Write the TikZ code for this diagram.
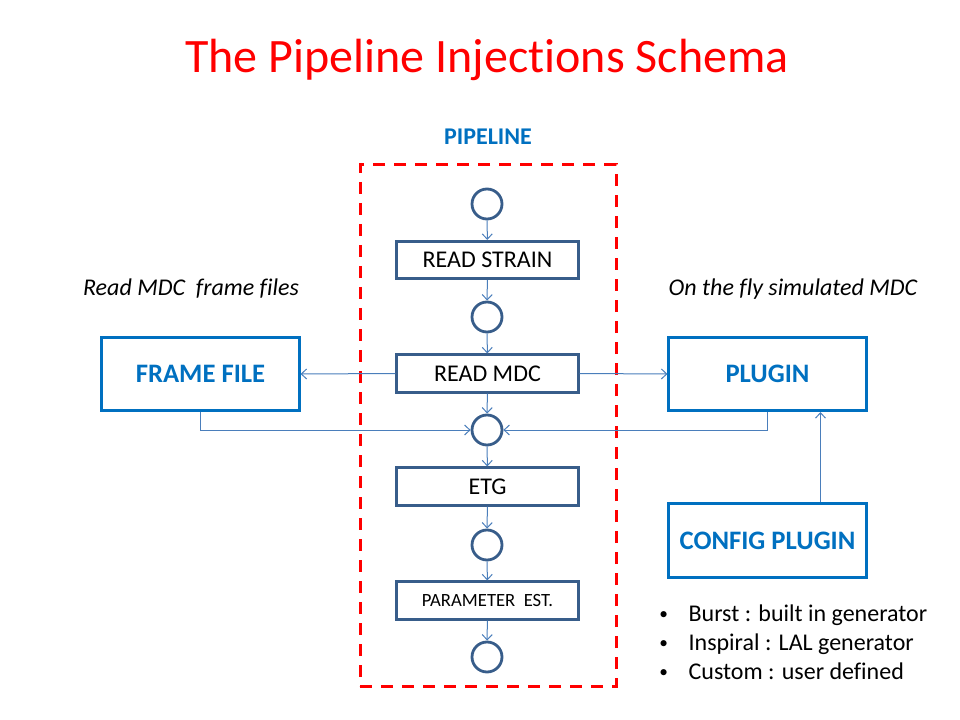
\documentclass[tikz,border=0pt]{standalone}
\usepackage{fontspec}
\setmainfont{Carlito}[Ligatures={NoCommon}]
\usetikzlibrary{arrows.meta}
\definecolor{titlered}{RGB}{255,0,0}
\definecolor{deepblue}{RGB}{0,112,192}
\definecolor{stepblue}{RGB}{56,93,138}
\definecolor{wireblue}{RGB}{74,126,187}
\newcommand{\kindmark}{\makebox[22pt][l]{\raisebox{1pt}{\fontsize{13}{13}\selectfont\textbullet}}}
\tikzset{
  stage/.style={draw=stepblue,line width=2.1pt,minimum width=136pt,minimum height=28pt,inner sep=0pt,font=\fontsize{18}{20}\selectfont},
  hub/.style={circle,draw=stepblue,line width=2.1pt,minimum size=22.5pt,inner sep=0pt},
  sidebox/.style={draw=deepblue,line width=2.1pt,minimum width=148pt,minimum height=55pt,text=deepblue,font=\fontsize{20}{24}\selectfont\bfseries},
  wire/.style={draw=wireblue,line width=0.75pt,->},
  pipeframe/.style={draw=titlered,line width=2.25pt,dash pattern=on 9pt off 6.75pt,minimum width=192pt,minimum height=390.75pt,inner sep=0pt},
  note/.style={font=\fontsize{18}{20}\selectfont\itshape},
}
\begin{document}
\begin{tikzpicture}[x=0.75pt,y=-0.75pt,>={Straight Barb[length=4pt,width=7.5pt]}]
  \useasboundingbox (0,0) rectangle (960,720);
  % title and frame
  \node[text=titlered,font=\fontsize{36}{40}\selectfont] (title) at (487,60) {The Pipeline Injections Schema};
  \node[pipeframe] (pipe) at (488,425.5) {};
  \node[text=deepblue,font=\fontsize{18}{20}\selectfont\bfseries] (pipelbl) at (488,137) {PIPELINE};
  % pipeline stages
  \node[hub] (h1) at (487,204) {};
  \node[stage] (rs) at (487.5,260) {READ STRAIN};
  \node[hub] (h2) at (487,317) {};
  \node[stage] (rmdc) at (487.5,373.5) {READ MDC};
  \node[hub] (h3) at (487,430) {};
  \node[stage] (etg) at (487.5,486.5) {ETG};
  \node[hub] (h4) at (487,545) {};
  \node[stage,font=\fontsize{14}{16}\selectfont] (pe) at (487.5,600.5) {PARAMETER\ \ EST.};
  \node[hub] (h5) at (487,657) {};
  % side boxes
  \node[sidebox] (ff) at (200.5,374) {FRAME FILE};
  \node[sidebox] (pl) at (767.5,374) {PLUGIN};
  \node[sidebox] (cfg) at (767.5,540.5) {CONFIG PLUGIN};
  \node[note] (fflbl) at (191,289) {Read MDC\ \ frame files};
  \node[note] (pllbl) at (793,289) {On the fly simulated MDC};
  \node[anchor=west,inner sep=0pt,align=left,font=\fontsize{18}{21.75}\selectfont] (kinds) at (659,642)
    {\kindmark Burst : built in generator\\
     \kindmark Inspiral : LAL generator\\
     \kindmark Custom : user defined};
  % connectors
  \draw[wire] (h1) -- (rs);
  \draw[wire] (rs) -- (h2);
  \draw[wire] (h2) -- (rmdc);
  \draw[wire] (rmdc) -- (h3);
  \draw[wire] (h3) -- (etg);
  \draw[wire] (etg) -- (h4);
  \draw[wire] (h4) -- (pe);
  \draw[wire] (pe) -- (h5);
  \draw[wire] (rmdc.west) -- (ff.east);
  \draw[wire] (rmdc.east) -- (pl.west);
  \draw[wire] (ff.south) |- (h3.west);
  \draw[wire] (pl.south) |- (h3.east);
  \draw[wire] ([xshift=39.75pt]cfg.north) -- ([xshift=39.75pt]pl.south);
\end{tikzpicture}
\end{document}
